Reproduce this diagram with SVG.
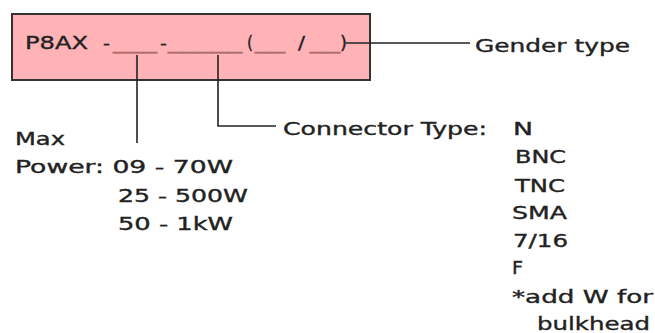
<svg xmlns="http://www.w3.org/2000/svg" width="655" height="333" viewBox="0 0 655 333">
<style>
text{font-family:"DejaVu Sans","Liberation Sans",sans-serif;font-size:17px;fill:#222;stroke:#222;stroke-width:0.35}
.u{fill:#b06c6c;stroke:#b06c6c}
.ln{stroke:#222;stroke-width:1.6;fill:none}
</style>
<rect width="655" height="333" fill="#fff"/>
<g id="code">
<rect x="12" y="14" width="358" height="66" fill="#ffb3b6" stroke="#333" stroke-width="2"/>
<text y="49"><tspan x="25" textLength="63" lengthAdjust="spacingAndGlyphs">P8AX</tspan><tspan x="103" textLength="7" lengthAdjust="spacingAndGlyphs">-</tspan><tspan class="u" x="113" textLength="44" lengthAdjust="spacingAndGlyphs">___</tspan><tspan x="160" textLength="7" lengthAdjust="spacingAndGlyphs">-</tspan><tspan class="u" x="168" textLength="74" lengthAdjust="spacingAndGlyphs">_____</tspan><tspan x="247" textLength="6" lengthAdjust="spacingAndGlyphs">(</tspan><tspan class="u" x="255" textLength="30" lengthAdjust="spacingAndGlyphs">__</tspan><tspan x="298" textLength="7" lengthAdjust="spacingAndGlyphs">/</tspan><tspan class="u" x="310" textLength="30" lengthAdjust="spacingAndGlyphs">__</tspan><tspan x="340" textLength="7" lengthAdjust="spacingAndGlyphs">)</tspan></text>
</g>
<g id="gender">
<text x="475" y="52" textLength="155" lengthAdjust="spacingAndGlyphs">Gender type</text>
</g>
<g id="power">
<text x="15" y="145" textLength="50" lengthAdjust="spacingAndGlyphs">Max</text>
<text x="15" y="173" textLength="218" lengthAdjust="spacingAndGlyphs">Power: 09 - 70W</text>
<text x="118" y="202" textLength="130" lengthAdjust="spacingAndGlyphs">25 - 500W</text>
<text x="118" y="230" textLength="115" lengthAdjust="spacingAndGlyphs">50 - 1kW</text>
</g>
<g id="connector">
<text x="283" y="135" textLength="204" lengthAdjust="spacingAndGlyphs">Connector Type:</text>
<text x="513" y="135" textLength="20" lengthAdjust="spacingAndGlyphs">N</text>
<text x="515" y="163" textLength="51" lengthAdjust="spacingAndGlyphs">BNC</text>
<text x="515" y="192" textLength="50" lengthAdjust="spacingAndGlyphs">TNC</text>
<text x="512" y="219" textLength="55" lengthAdjust="spacingAndGlyphs">SMA</text>
<text x="513" y="247" textLength="55" lengthAdjust="spacingAndGlyphs">7/16</text>
<text x="512" y="274" textLength="11" lengthAdjust="spacingAndGlyphs">F</text>
<text x="512" y="303" textLength="141" lengthAdjust="spacingAndGlyphs">*add W for</text>
<text x="537" y="330" textLength="113" lengthAdjust="spacingAndGlyphs">bulkhead</text>
</g>
<g id="connectors">
<path class="ln" d="M346 43H470"/>
<path class="ln" d="M137 55V143"/>
<path class="ln" d="M218 55V126H276"/>
</g>
</svg>
